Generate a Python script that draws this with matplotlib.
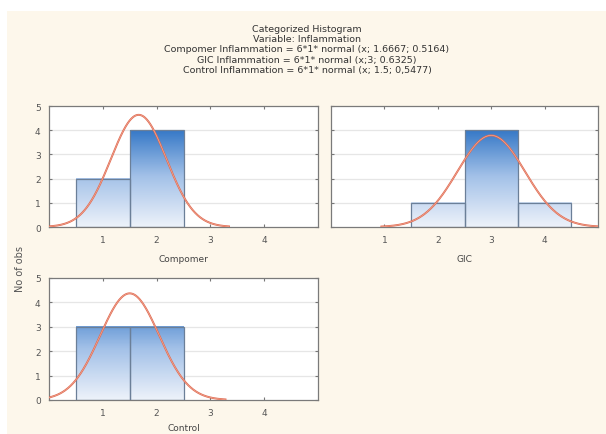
import numpy as np
import matplotlib.pyplot as plt
from matplotlib.colors import LinearSegmentedColormap
from matplotlib.patches import Rectangle

# histogram counts per category (bin centres / counts)
groups = ["Compomer", "GIC", "Control"]
bin_centers = {
    "Compomer": [1, 2],
    "GIC": [2, 3, 4],
    "Control": [1, 2],
}
counts = {
    "Compomer": [2, 4],
    "GIC": [1, 4, 1],
    "Control": [3, 3],
}
# fitted normal parameters (mean, sd), n = 6
means = {"Compomer": 1.6667, "GIC": 3.0, "Control": 1.5}
sds = {"Compomer": 0.5164, "GIC": 0.6325, "Control": 0.5477}
n_obs = 6
x_ticks = [1, 2, 3, 4]
y_ticks = [0, 1, 2, 3, 4, 5]

title_lines = [
    "Categorized Histogram",
    "Variable: Inflammation",
    "Compomer Inflammation = 6*1* normal (x; 1.6667; 0.5164)",
    "GIC Inflammation = 6*1* normal (x;3; 0.6325)",
    "Control Inflammation = 6*1* normal (x; 1.5; 0,5477)",
]

cream = "#fdf7eb"
blues = LinearSegmentedColormap.from_list("bar_blue", ["#edf2fa", "#a3c1e8", "#2c72c4"])

fig = plt.figure(figsize=(6.06, 4.35), dpi=100, facecolor="white")
fig.patches.append(Rectangle((7 / 606, 0), 1, 1 - 12 / 435, transform=fig.transFigure,
                             facecolor=cream, edgecolor="none", zorder=-10))

W, H = 606, 435
boxes = {
    "Compomer": (49, 107, 318, 228),
    "GIC": (331, 107, 598, 228),
    "Control": (49, 279, 318, 401),
}

for g in groups:
    l, t, r, b = boxes[g]
    ax = fig.add_axes([l / W, 1 - b / H, (r - l) / W, (b - t) / H])
    ax.set_facecolor("white")
    for y in [1, 2, 3, 4]:
        ax.axhline(y, color="#e6e6e6", lw=0.9, zorder=1)

    # gradient-filled bars
    for c, h in zip(bin_centers[g], counts[g]):
        grad = np.linspace(0, h / 4.2, 100).reshape(-1, 1)
        ax.imshow(grad, cmap=blues, vmin=0, vmax=1, aspect="auto", origin="lower",
                  extent=(c - 0.5, c + 0.5, 0, h), zorder=2)
        ax.add_patch(Rectangle((c - 0.5, 0), 1, h, facecolor="none",
                               edgecolor="#6b7f98", lw=0.9, zorder=3))

    # fitted normal curve
    mu, sd = means[g], sds[g]
    xs = np.linspace(mu - 3.25 * sd, mu + 3.25 * sd, 300)
    ys = n_obs * np.exp(-0.5 * ((xs - mu) / sd) ** 2) / (sd * np.sqrt(2 * np.pi))
    ax.plot(xs, ys, color="#e0694f", lw=1.4, zorder=4)
    ax.plot(xs, ys, color="#f2b4a4", lw=0.4, zorder=5)

    ax.set_xlim(0, 5)
    ax.set_ylim(0, 5)
    ax.set_xticks(x_ticks)
    ax.set_yticks(y_ticks)
    ax.tick_params(direction="in", length=2, width=0.8, color="#777777",
                   labelsize=6.5, labelcolor="#555555", top=True, right=True, pad=6)
    if g == "GIC":
        ax.set_yticklabels([])
    for s in ax.spines.values():
        s.set_color("#7a7a7a")
        s.set_linewidth(0.9)
    ax.set_xlabel(g, fontsize=6.5, color="#444444", labelpad=4 if g == "Control" else 7)

fig.text(20 / W, 1 - 269 / H, "No of obs", rotation=90, ha="center", va="center",
         fontsize=7, color="#555555")

for i, line in enumerate(title_lines):
    fig.text(307 / W, 1 - (29 + 10.4 * i) / H, line, ha="center", va="center",
             fontsize=6.8, color="#333333")

fig.savefig("out.png", dpi=100, facecolor="white")
